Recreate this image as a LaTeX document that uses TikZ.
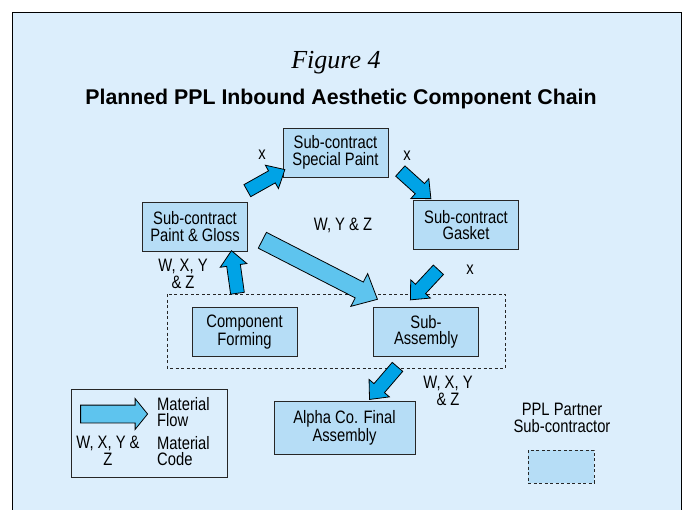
\documentclass[tikz,border=0pt]{standalone}
\usepackage{fontspec}
\setmainfont{Liberation Sans}
\newfontfamily\narrowsf[FakeStretch=0.82]{Liberation Sans}
\newfontfamily\figfont{Liberation Serif}
\usetikzlibrary{shapes.arrows,calc}
\definecolor{pagebg}{HTML}{DCEEFC}
\definecolor{boxblue}{HTML}{B6DDF6}
\definecolor{flowdark}{HTML}{00A3E6}
\definecolor{flowpale}{HTML}{5EC4EE}
% block arrow from #2 to #3
\newcommand\flowarrow[3][flow]{%
  \path let \p1=($(#3)-(#2)$), \n1={veclen(\x1,\y1)} in
    (#2) -- (#3) node[#1, midway, sloped, allow upside down, minimum height=\n1] {};}

\begin{document}
\begin{tikzpicture}[x=1pt,y=-1pt,
  txt/.style={font=\narrowsf\fontsize{18}{16.5}\selectfont, align=center, inner sep=0pt},
  block/.style={rectangle, txt, draw=black!85, line width=0.9pt, fill=boxblue, minimum width=105pt, minimum height=49pt},
  flow/.style={single arrow, draw=black, line width=0.8pt, fill=flowdark, inner xsep=0pt, inner ysep=6.5pt, outer sep=0pt,
    minimum width=26pt, single arrow head extend=6.5pt, single arrow tip angle=84},
  bigflow/.style={flow, fill=flowpale, inner ysep=8.5pt, minimum width=36pt, single arrow head extend=9.5pt},
  group/.style={draw=black!85, line width=0.8pt, dash pattern=on 3pt off 2.5pt}]
\useasboundingbox (0,0) rectangle (684,509);
\draw[fill=pagebg, line width=0.8pt] (12,12) rectangle (681,530);

\node[font=\figfont\itshape\fontsize{26}{28}\selectfont] (fig) at (336,63) {Figure 4};
\node[font=\bfseries\fontsize{21.3}{24}\selectfont] (title) at (341,99) {Planned PPL Inbound Aesthetic Component Chain};

% partner group
\draw[group] (167,294) rectangle (505,368);

\node[block] (sp) at (335.5,152.5) {Sub-contract\\Special Paint};
\node[block] (pg) at (195,226.5) {Sub-contract\\Paint \& Gloss};
\node[block] (gk) at (466,225) {Sub-contract\\Gasket};
\node[block] (cf) at (244.5,332) {Component\\Forming};
\node[block] (sa) at (426,332) {Sub-\\Assembly};
\node[block, minimum width=141pt, minimum height=53pt] (fa) at (344.5,427.5) {Alpha Co. Final\\Assembly};

% arrow ends
\coordinate (pg-sp-a) at ($(pg.north east)+(-4,-9)$);
\coordinate (pg-sp-b) at ($(sp.south west)+(-1,-6)$);
\coordinate (sp-gk-a) at ($(sp.south east)+(9,-9)$);
\coordinate (sp-gk-b) at ($(gk.north west)+(15,-4)$);
\coordinate (gk-sa-a) at ($(gk.south)+(-25,17)$);
\coordinate (gk-sa-b) at ($(sa.north)+(-13,-10)$);
\coordinate (cf-pg-a) at ($(cf.north)+(-6.5,-10)$);
\coordinate (cf-pg-b) at ($(pg.south)+(37,3)$);
\coordinate (pg-sa-a) at ($(pg.east)+(10,11.5)$);
\coordinate (pg-sa-b) at ($(sa.north west)+(0,-10)$);
\coordinate (sa-fa-a) at ($(sa.south)+(-26,7)$);
\coordinate (sa-fa-b) at ($(fa.north)+(27.5,-4)$);

\flowarrow{pg-sp-a}{pg-sp-b}
\flowarrow{sp-gk-a}{sp-gk-b}
\flowarrow{gk-sa-a}{gk-sa-b}
\flowarrow{cf-pg-a}{cf-pg-b}
\flowarrow[bigflow]{pg-sa-a}{pg-sa-b}
\flowarrow{sa-fa-a}{sa-fa-b}

% material codes
\node[txt] (c1) at (262,155) {x};
\node[txt] (c2) at (407,156) {x};
\node[txt] (c3) at (470,270) {x};
\node[txt] (c4) at (343,225) {W, Y \& Z};
\node[txt] (c5) at (183,274) {W, X, Y\\\& Z};
\node[txt] (c6) at (448,391) {W, X, Y\\\& Z};

% legend
\draw[line width=0.8pt, draw=black!85] (71,389) rectangle (227,477);
\coordinate (lg-a) at (77,414);
\coordinate (lg-b) at (144,414);
\flowarrow[bigflow, inner ysep=8.5pt, minimum width=30pt, single arrow head extend=6.5pt, single arrow tip angle=102]{lg-a}{lg-b}
\node[txt, anchor=west, align=left] (lflow) at (157,412) {Material\\Flow};
\node[txt, anchor=west, align=left] (lcode) at (157,451) {Material\\Code};
\node[txt] (lcodes) at (108,451) {W, X, Y \&\\Z};
\node[txt] (lpart) at (562,418) {PPL Partner\\Sub-contractor};
\draw[group, fill=boxblue] (528,450) rectangle (594,483);
\end{tikzpicture}
\end{document}
